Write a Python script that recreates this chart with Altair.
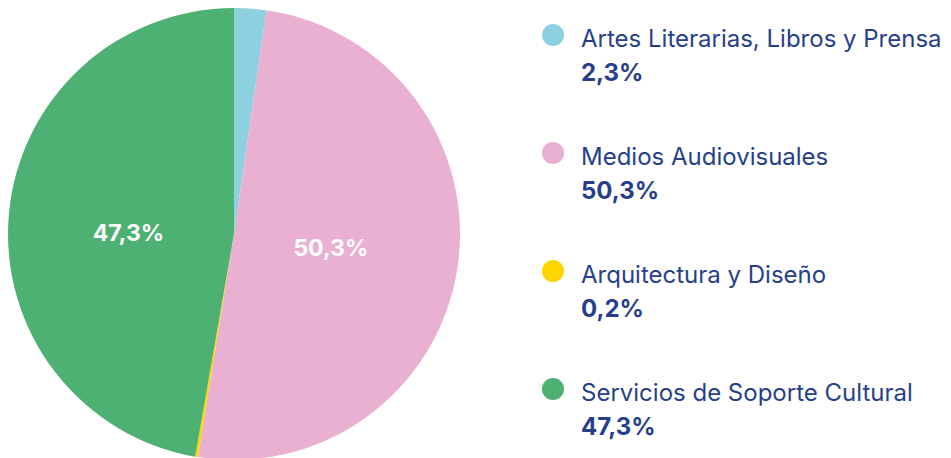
import altair as alt
import pandas as pd

cats = ["Artes Literarias, Libros y Prensa", "Medios Audiovisuales",
        "Arquitectura y Diseño", "Servicios de Soporte Cultural"]
values = [2.3, 50.3, 0.2, 47.3]
pct_labels = ["2,3%", "50,3%", "0,2%", "47,3%"]
inside_labels = ["", "50,3%", "", "47,3%"]
colors = ["#8dd1e1", "#eab0d2", "#ffd600", "#4db173"]
navy = "#263f8a"
FONT = "Inter"

df = pd.DataFrame({
    "idx": list(range(len(cats))),
    "cat": cats,
    "value": values,
    "pct": pct_labels,
    "inside": inside_labels,
})

color_scale = alt.Scale(domain=cats, range=colors)

base = alt.Chart(df).encode(
    theta=alt.Theta("value:Q", stack=True),
    order=alt.Order("idx:Q"),
)
arcs = base.mark_arc(outerRadius=226).encode(
    color=alt.Color("cat:N", scale=color_scale, legend=None)
)
txt_style = dict(font=FONT, fontSize=23, fontWeight="bold", color="white")
inside_right = base.mark_text(radius=98, **txt_style).encode(
    text=alt.condition("datum.idx == 1", "inside:N", alt.value("")))
inside_left = base.mark_text(radius=100, dx=-6, dy=9, **txt_style).encode(
    text=alt.condition("datum.idx == 3", "inside:N", alt.value("")))
pie = (arcs + inside_right + inside_left).properties(width=452, height=450)

yenc = alt.Y("cat:N", axis=None,
             scale=alt.Scale(type="point", domain=cats, range=[26, 380], padding=0))
lbase = alt.Chart(df).encode(y=yenc)
dots = lbase.mark_circle(size=490, opacity=1).encode(
    x=alt.value(23),
    color=alt.Color("cat:N", scale=color_scale, legend=None),
)
names = lbase.mark_text(align="left", baseline="alphabetic", dy=12, font=FONT,
                        fontSize=24, color=navy).encode(x=alt.value(51), text="cat:N")
pcts = lbase.mark_text(align="left", baseline="alphabetic", dy=46, font=FONT,
                       fontSize=24, fontWeight="bold", color=navy).encode(
    x=alt.value(51), text="pct:N")
legend = (dots + names + pcts).properties(width=400, height=450)

chart = alt.hconcat(pie, legend, spacing=70).properties(padding=0).configure_view(strokeWidth=0)

chart.save("out.html", embed_options={"renderer": "svg", "actions": False})
